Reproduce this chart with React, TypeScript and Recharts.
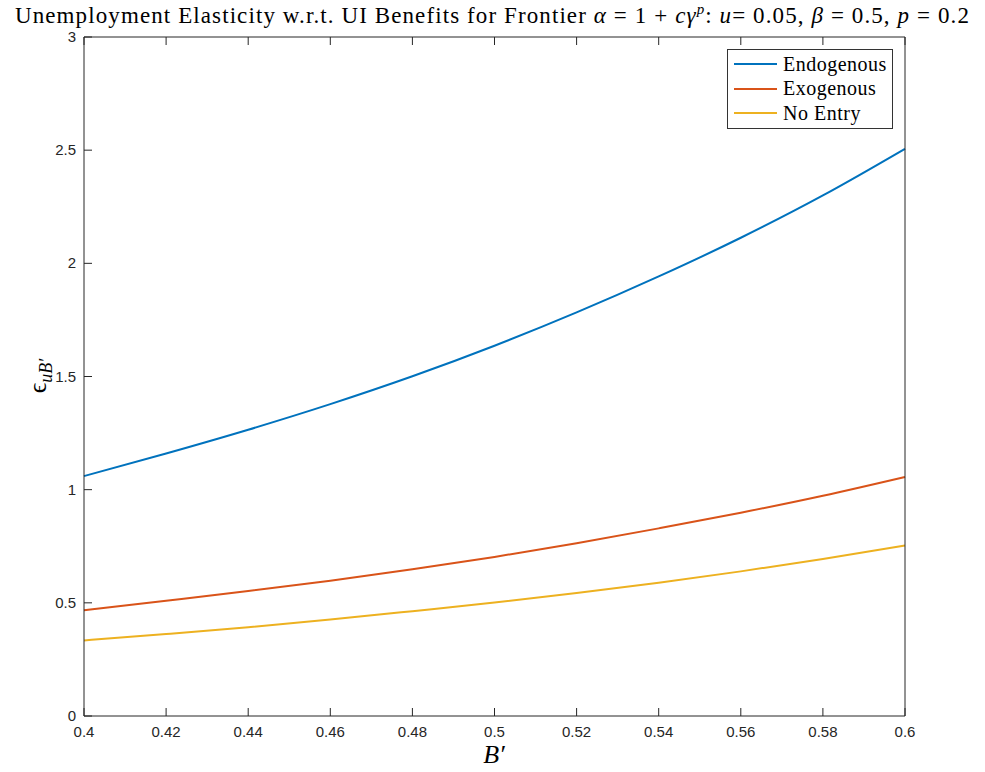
import React from "react";
import { LineChart, Line, XAxis, YAxis } from "recharts";

const bValues = [0.4, 0.42, 0.44, 0.46, 0.48, 0.5, 0.52, 0.54, 0.56, 0.58, 0.6];
const endogenous = [1.06, 1.16, 1.265, 1.378, 1.501, 1.636, 1.783, 1.942, 2.113, 2.3, 2.506];
const exogenous = [0.467, 0.509, 0.552, 0.598, 0.648, 0.703, 0.763, 0.829, 0.898, 0.973, 1.056];
const noEntry = [0.334, 0.362, 0.392, 0.426, 0.463, 0.501, 0.543, 0.589, 0.639, 0.694, 0.753];

const xTicks = [0.4, 0.42, 0.44, 0.46, 0.48, 0.5, 0.52, 0.54, 0.56, 0.58, 0.6];
const yTicks = [0, 0.5, 1, 1.5, 2, 2.5, 3];

const series = [
  { key: "endo", name: "Endogenous", color: "#0072BD", values: endogenous },
  { key: "exo", name: "Exogenous", color: "#D95319", values: exogenous },
  { key: "none", name: "No Entry", color: "#EDB120", values: noEntry },
];

const data = bValues.map((b, i) => ({
  b,
  endo: endogenous[i],
  exo: exogenous[i],
  none: noEntry[i],
}));

const AXIS = "#262626";
const TICK_LEN = 8;
const tickFont = "'Liberation Sans', Arial, sans-serif";
const serif = "'Liberation Serif', 'Times New Roman', serif";

const fmt = (v: number) => String(Number(v.toFixed(2)));

const BottomTick = ({ x, y, payload }: any) => (
  <g>
    <line x1={x} y1={y} x2={x} y2={y - TICK_LEN} stroke={AXIS} strokeWidth={1} />
    <text x={x} y={y + 21} textAnchor="middle" fontSize={15} fill={AXIS} fontFamily={tickFont}>
      {fmt(payload.value)}
    </text>
  </g>
);

const TopTick = ({ x, y }: any) => (
  <line x1={x} y1={y} x2={x} y2={y + TICK_LEN} stroke={AXIS} strokeWidth={1} />
);

const LeftTick = ({ x, y, payload }: any) => (
  <g>
    <line x1={x} y1={y} x2={x + TICK_LEN} y2={y} stroke={AXIS} strokeWidth={1} />
    <text x={x - 8} y={y + 5} textAnchor="end" fontSize={15} fill={AXIS} fontFamily={tickFont}>
      {fmt(payload.value)}
    </text>
  </g>
);

const RightTick = ({ x, y }: any) => (
  <line x1={x} y1={y} x2={x - TICK_LEN} y2={y} stroke={AXIS} strokeWidth={1} />
);

export default function App() {
  return (
    <div style={{ position: "absolute", left: 0, top: 0, width: 985, height: 772, background: "white" }}>
      <div
        style={{
          position: "absolute",
          left: 0,
          top: 1,
          width: 985,
          textAlign: "center",
          fontFamily: serif,
          fontSize: 23,
          letterSpacing: 1.1,
          whiteSpace: "nowrap",
        }}
      >
        Unemployment Elasticity w.r.t. UI Benefits for Frontier <i>α</i> = 1 + <i>cγ</i>
        <sup style={{ fontSize: 15 }}>
          <i>p</i>
        </sup>
        : <i>u</i>= 0.05, <i>β</i> = 0.5, <i>p</i> = 0.2
      </div>

      <LineChart
        width={985}
        height={772}
        data={data}
        margin={{ top: 36, right: 79, bottom: 0, left: 0 }}
      >
        <XAxis
          xAxisId="bottom"
          dataKey="b"
          type="number"
          domain={[0.4, 0.6]}
          ticks={xTicks}
          height={56}
          tickSize={0}
          tickMargin={0}
          interval={0}
          stroke={AXIS}
          tick={<BottomTick />}
        />
        <XAxis
          xAxisId="top"
          orientation="top"
          dataKey="b"
          type="number"
          domain={[0.4, 0.6]}
          ticks={xTicks}
          height={1}
          tickSize={0}
          tickMargin={0}
          interval={0}
          stroke={AXIS}
          tick={<TopTick />}
        />
        <YAxis
          yAxisId="left"
          type="number"
          domain={[0, 3]}
          ticks={yTicks}
          width={84}
          tickSize={0}
          tickMargin={0}
          interval={0}
          stroke={AXIS}
          tick={<LeftTick />}
        />
        <YAxis
          yAxisId="right"
          orientation="right"
          type="number"
          domain={[0, 3]}
          ticks={yTicks}
          width={1}
          tickSize={0}
          tickMargin={0}
          interval={0}
          stroke={AXIS}
          tick={<RightTick />}
        />
        {series.map((s) => (
          <Line
            key={s.key}
            xAxisId="bottom"
            yAxisId="left"
            type="monotone"
            dataKey={s.key}
            name={s.name}
            stroke={s.color}
            strokeWidth={2}
            dot={false}
            isAnimationActive={false}
          />
        ))}
      </LineChart>

      <div
        style={{
          position: "absolute",
          left: 727,
          top: 49,
          width: 166,
          height: 80,
          boxSizing: "border-box",
          border: "1px solid #333",
          background: "white",
          padding: "2px 0 0 6px",
          fontFamily: serif,
          fontSize: 20,
          color: "#000",
        }}
      >
        {series.map((s) => (
          <div key={s.key} style={{ display: "flex", alignItems: "center", height: 24.5 }}>
            <div style={{ width: 43, height: 2, background: s.color, marginRight: 6 }} />
            <span style={{ letterSpacing: 0.5 }}>{s.name}</span>
          </div>
        ))}
      </div>

      <div
        style={{
          position: "absolute",
          left: 494,
          top: 740,
          transform: "translateX(-50%)",
          fontFamily: serif,
          fontSize: 26,
          fontStyle: "italic",
          whiteSpace: "nowrap",
        }}
      >
        B′
      </div>
      <div
        style={{
          position: "absolute",
          left: 40,
          top: 376,
          transform: "translate(-50%, -50%) rotate(-90deg)",
          fontFamily: serif,
          fontSize: 26,
          whiteSpace: "nowrap",
        }}
      >
        ϵ
        <sub style={{ fontSize: 18, fontStyle: "italic" }}>uB′</sub>
      </div>
    </div>
  );
}
